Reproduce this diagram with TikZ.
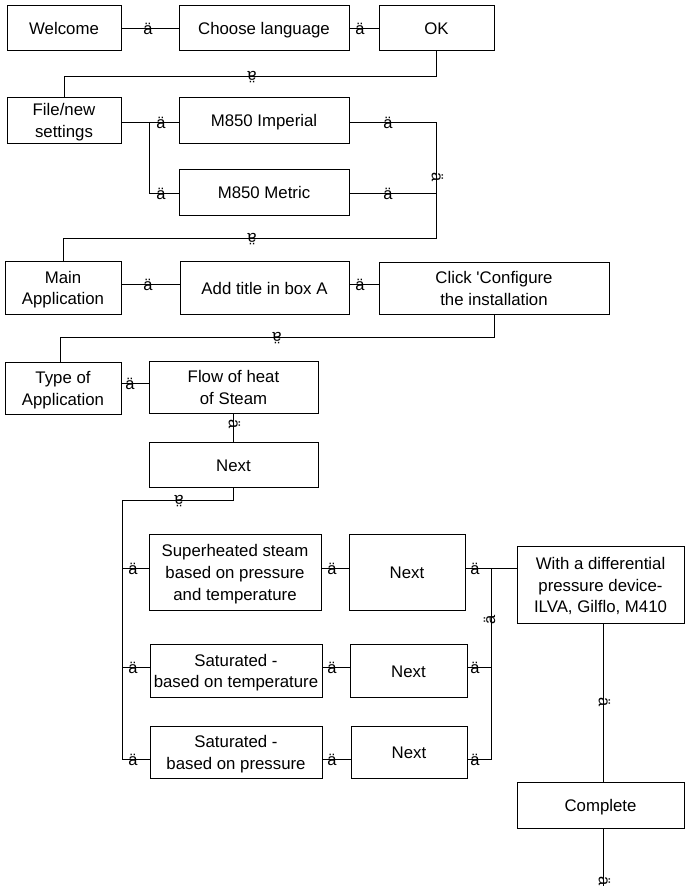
\documentclass[tikz,border=0pt]{standalone}
\usepackage{fontspec}
\setmainfont{Liberation Sans}
\newcommand{\boxstrut}{\rule[-4pt]{0pt}{21pt}}

\begin{document}
\begin{tikzpicture}[x=1pt, y=-1pt, line width=0.9pt]
\tikzstyle{blk}=[draw, inner sep=0pt, align=center, font=\fontsize{16.8}{21.7}\selectfont, execute at begin node=\boxstrut, execute at end node=\boxstrut]
\tikzstyle{arr}=[inner sep=0pt, font=\fontsize{16.5}{16.5}\selectfont]
\useasboundingbox (0,0) rectangle (687,890);
\node [blk, minimum width=114pt, minimum height=45pt] (welcome) at (64,28) {Welcome};
\node [blk, minimum width=170pt, minimum height=45pt] (lang) at (264,28) {Choose language};
\node [blk, minimum width=115pt, minimum height=45pt] (ok) at (436.5,28) {OK};
\node [blk, minimum width=114pt, minimum height=46pt] (file) at (64,120) {\boxstrut File/new\\settings};
\node [blk, minimum width=170pt, minimum height=46pt] (imp) at (264,120) {M850 Imperial};
\node [blk, minimum width=170pt, minimum height=46pt] (met) at (264,192) {M850 Metric};
\node [blk, minimum width=116pt, minimum height=53pt] (mainapp) at (63,287.5) {\boxstrut Main\\Application};
\node [blk, minimum width=169pt, minimum height=53pt] (title) at (264.5,287.5) {Add title in box A};
\node [blk, minimum width=230pt, minimum height=52pt] (config) at (494,288) {\boxstrut Click \textquotesingle Configure\\the installation};
\node [blk, minimum width=116pt, minimum height=52pt] (apptype) at (63,388) {\boxstrut Type of\\Application};
\node [blk, minimum width=169pt, minimum height=52pt] (flow) at (233.5,387) {\boxstrut Flow of heat\\of Steam};
\node [blk, minimum width=169pt, minimum height=45pt] (next0) at (233.5,464.5) {Next};
\node [blk, minimum width=172pt, minimum height=76pt] (sup) at (235,572) {\boxstrut Superheated steam\\based on pressure\\and temperature};
\node [blk, minimum width=116pt, minimum height=76pt] (nexta) at (407,572) {Next};
\node [blk, minimum width=172pt, minimum height=53pt] (satt) at (236,670.5) {\boxstrut Saturated -\\based on temperature};
\node [blk, minimum width=117pt, minimum height=53pt] (nextb) at (408.5,670.5) {Next};
\node [blk, minimum width=172pt, minimum height=52pt] (satp) at (236,752) {\boxstrut Saturated -\\based on pressure};
\node [blk, minimum width=116pt, minimum height=52pt] (nextc) at (409,752) {Next};
\node [blk, minimum width=167pt, minimum height=77pt] (dev) at (600.5,584.5) {\boxstrut With a differential\\pressure device-\\ILVA, Gilflo, M410};
\node [blk, minimum width=167pt, minimum height=46pt] (done) at (600.5,805) {Complete};
\coordinate (t1) at (0,76);
\coordinate (t2) at (0,238);
\coordinate (t3) at (0,337);
\coordinate (t4) at (0,500);
\coordinate (y1) at (0,122);
\coordinate (y2) at (0,193);
\coordinate (y3) at (0,284);
\coordinate (y4) at (0,383);
\coordinate (y5) at (0,568);
\coordinate (y6) at (0,667);
\coordinate (y7) at (0,759);
\coordinate (x1) at (149,0);
\coordinate (x2) at (436,0);
\coordinate (x3) at (122,0);
\coordinate (x4) at (491,0);
\coordinate (x5) at (603,0);
\coordinate (x6) at (60,0);
\coordinate (finish) at (603,886);
\draw (welcome.east) -- (lang.west);
\draw (lang.east) -- (ok.west);
\draw (ok.south) |- (file.north |- t1) -- (file.north);
\draw (file.east |- y1) -- (imp.west |- y1);
\draw (x1 |- y1) |- (met.west |- y2);
\draw (imp.east |- y1) -| (x2 |- t2) -| (mainapp.north);
\draw (met.east |- y2) -- (x2 |- y2);
\draw (mainapp.east |- y3) -- (title.west |- y3);
\draw (title.east |- y3) -- (config.west |- y3);
\draw (config.south) |- (x6 |- t3) -- (apptype.north -| x6);
\draw (apptype.east |- y4) -- (flow.west |- y4);
\draw (flow.south) -- (next0.north);
\draw (next0.south) |- (x3 |- t4) |- (satp.west |- y7);
\draw (x3 |- y5) -- (sup.west |- y5);
\draw (x3 |- y6) -- (satt.west |- y6);
\draw (sup.east |- y5) -- (nexta.west |- y5);
\draw (satt.east |- y6) -- (nextb.west |- y6);
\draw (satp.east |- y7) -- (nextc.west |- y7);
\draw (nexta.east |- y5) -- (dev.west |- y5);
\draw (nextb.east |- y6) -- (x4 |- y6);
\draw (nextc.east |- y7) -| (x4 |- y5);
\draw (dev.south -| x5) -- (done.north -| x5);
\draw (done.south -| x5) -- (finish);
\node [arr] (a1) at (148,29) {ä};
\node [arr] (a2) at (360,29) {ä};
\node [arr, rotate=180] (a3) at (252,77.5) {ä};
\node [arr] (a4) at (161,123) {ä};
\node [arr] (a5) at (161,194) {ä};
\node [arr] (a6) at (388,123) {ä};
\node [arr] (a7) at (388,194) {ä};
\node [arr, rotate=-90] (a8) at (437.5,177) {ä};
\node [arr, rotate=180] (a9) at (252,239.5) {ä};
\node [arr] (a10) at (148,285) {ä};
\node [arr] (a11) at (360,285) {ä};
\node [arr, rotate=180] (a12) at (277,338.5) {ä};
\node [arr] (a13) at (130,384) {ä};
\node [arr, rotate=-90] (a14) at (234.5,424) {ä};
\node [arr, rotate=180] (a15) at (179,501.5) {ä};
\node [arr] (a16) at (133,569) {ä};
\node [arr] (a17) at (133,668) {ä};
\node [arr] (a18) at (133,760) {ä};
\node [arr] (a19) at (332,569) {ä};
\node [arr] (a20) at (332,668) {ä};
\node [arr] (a21) at (332,760) {ä};
\node [arr] (a22) at (475,569) {ä};
\node [arr] (a23) at (475,668) {ä};
\node [arr] (a24) at (475,760) {ä};
\node [arr, rotate=90] (a25) at (489.5,620) {ä};
\node [arr, rotate=-90] (a26) at (604.5,702) {ä};
\node [arr, rotate=-90] (a27) at (604.5,881) {ä};
\end{tikzpicture}
\end{document}
